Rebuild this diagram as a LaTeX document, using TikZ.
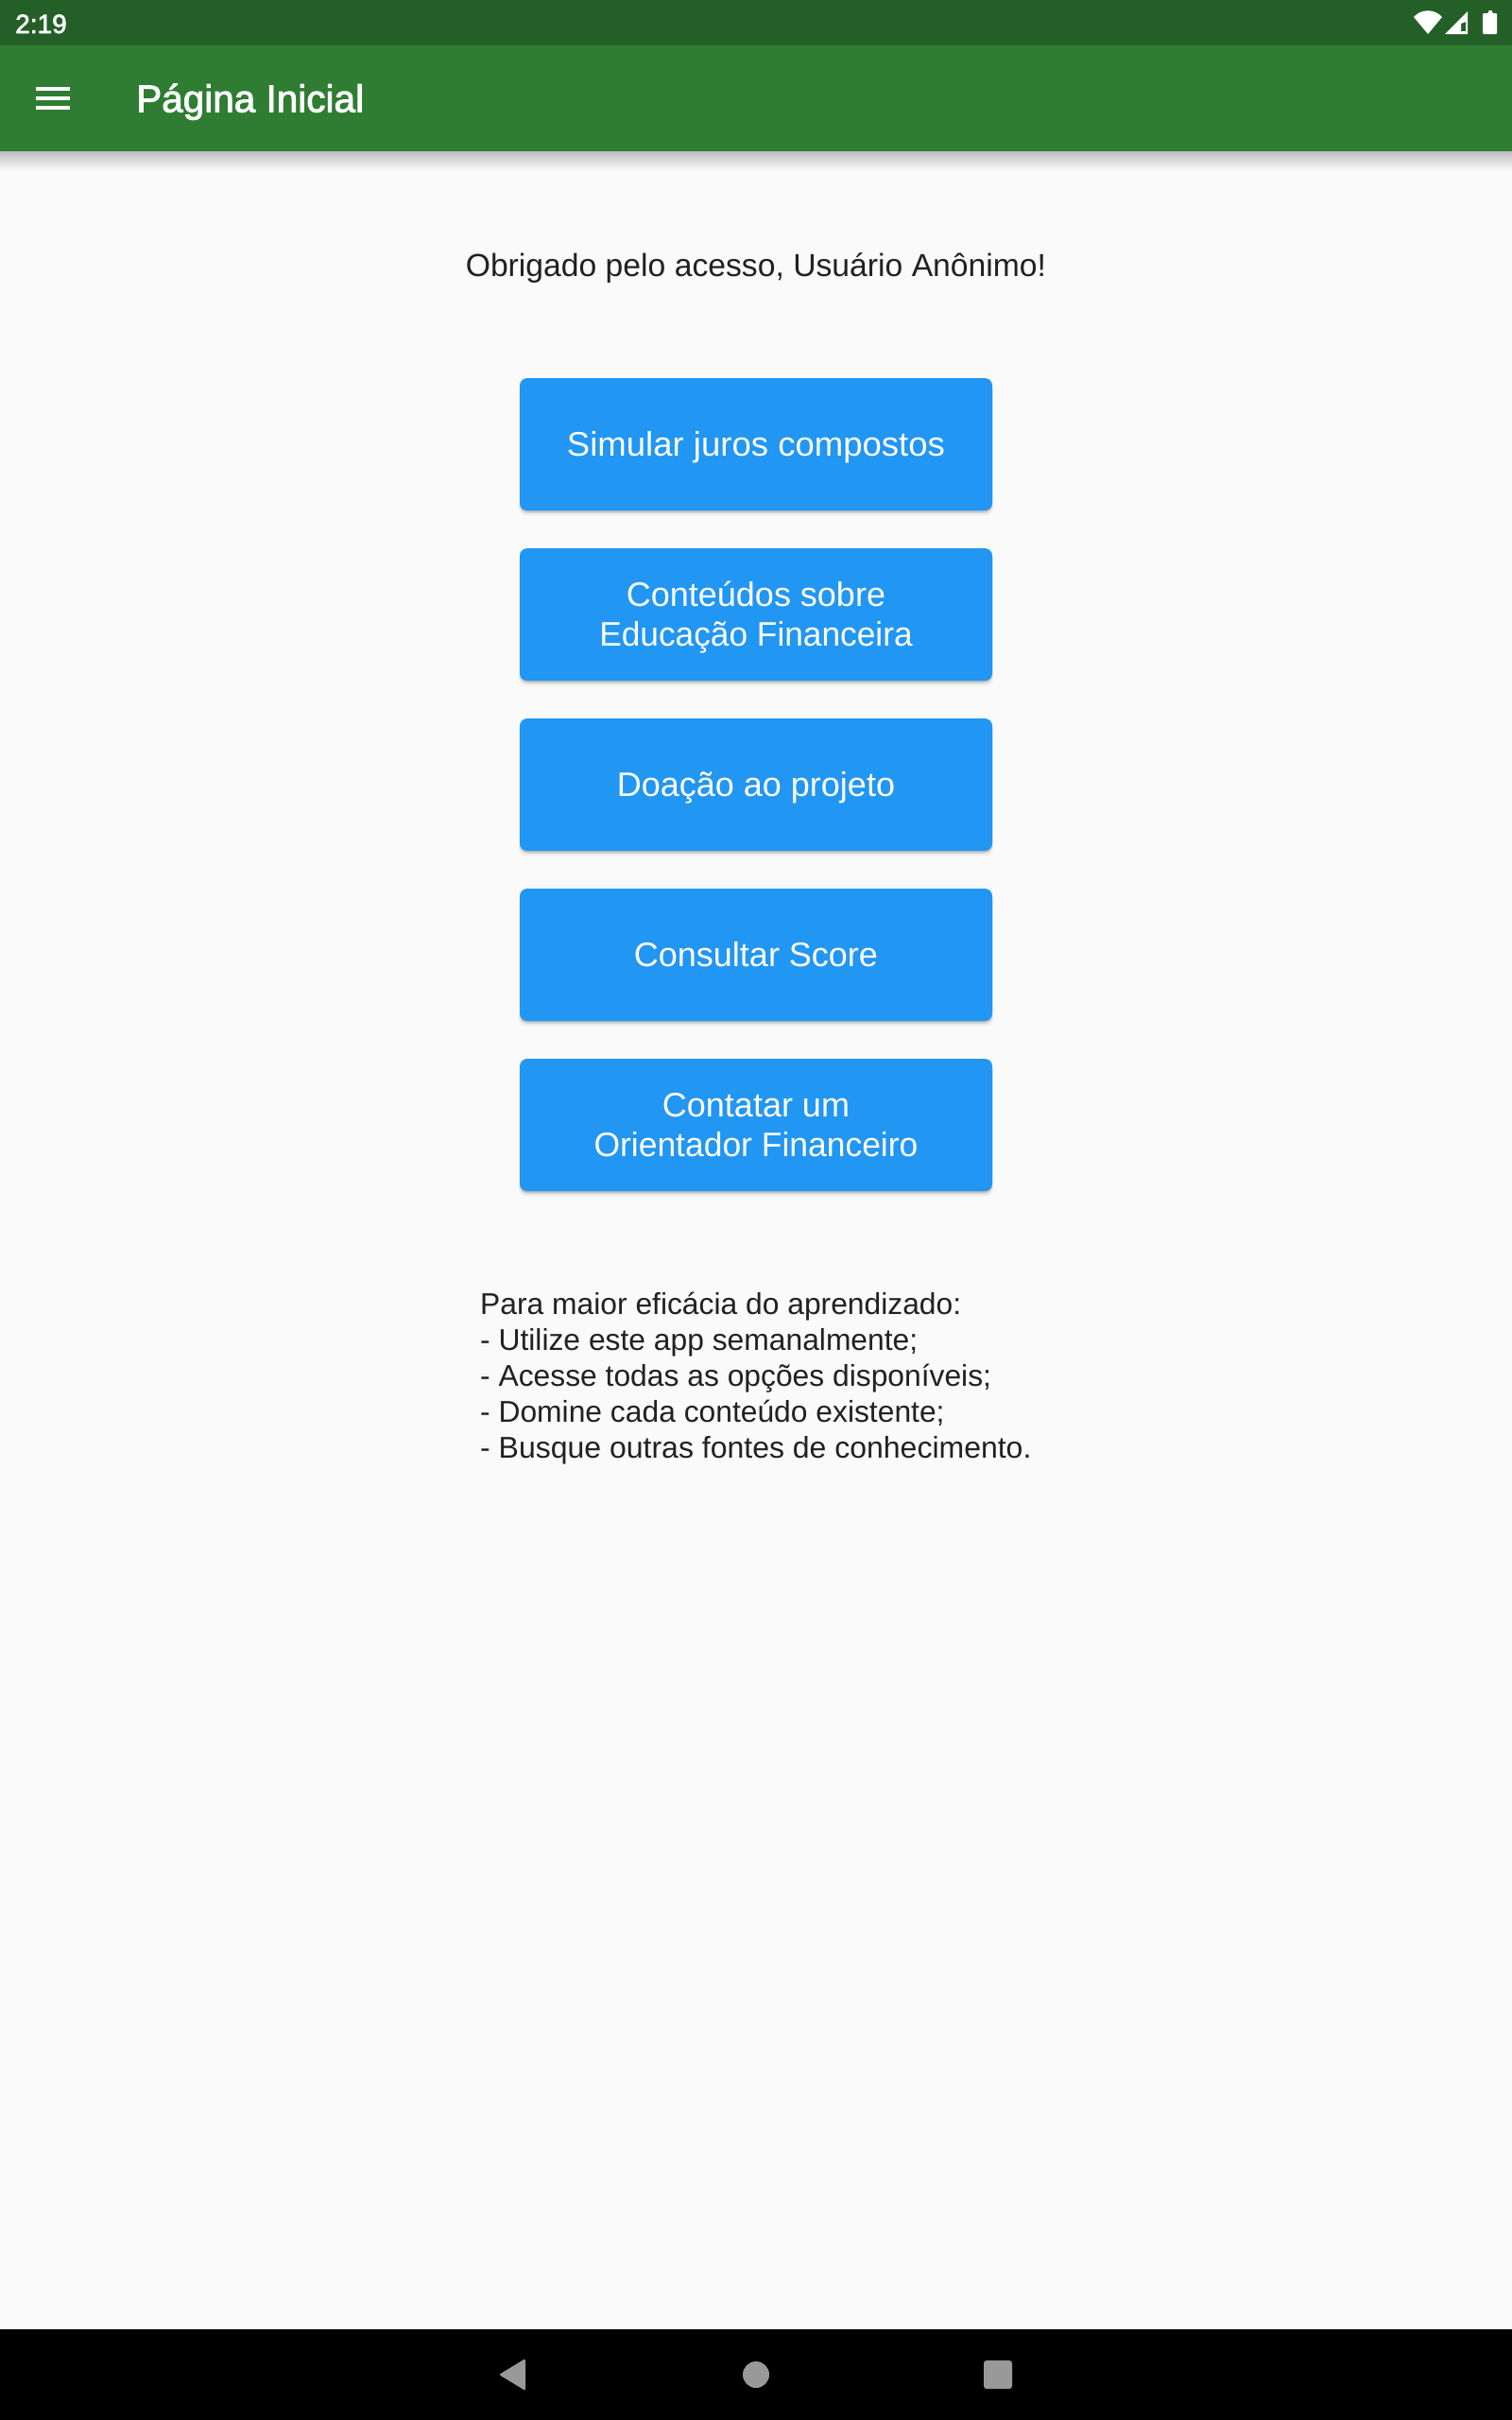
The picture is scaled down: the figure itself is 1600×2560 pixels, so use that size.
\documentclass[tikz,border=0pt]{standalone}
\usepackage{fontspec}
\usetikzlibrary{shadows}
\setmainfont{Liberation Sans}
\newfontfamily\medfont[FakeBold=2.2]{Liberation Sans}
\definecolor{statusgreen}{HTML}{245F28}
\definecolor{bargreen}{HTML}{2F7D33}
\definecolor{btnblue}{HTML}{2196F3}
\definecolor{pagebg}{HTML}{FAFAFA}
\definecolor{inktext}{HTML}{212121}
\definecolor{navgray}{HTML}{999999}
\newcommand{\topstrut}{\rule{0pt}{32pt}}
\newcommand{\botstrut}{\rule[-8pt]{0pt}{8pt}}
\newcommand{\hfit}[2]{\scalebox{#1}[1]{#2}}
\tikzset{
  btnbox/.style={rounded corners=8pt, minimum width=500pt, minimum height=140pt, inner sep=0pt,
    fill=btnblue, text=white, align=center, font=\fontsize{36}{42}\selectfont,
    general shadow={fill=black,fill opacity=.05,shadow yshift=-5pt,shadow scale=1.004},
    general shadow={fill=black,fill opacity=.09,shadow yshift=-3pt},
    general shadow={fill=black,fill opacity=.12,shadow yshift=-1.5pt}},
  bodytext/.style={text=inktext, inner sep=0pt, align=left, font=\fontsize{31.8}{38}\selectfont},
  icon/.style={fill=white, draw=none}
}
\begin{document}
\begin{tikzpicture}[x=1pt,y=-1pt]
\useasboundingbox (0,0) rectangle (1600,2560);
\fill[pagebg] (0,0) rectangle (1600,2560);
% app bar shadow
\shade[top color=black!24!pagebg, bottom color=pagebg] (0,160) rectangle (1600,180);
\fill[bargreen] (0,48) rectangle (1600,160);
\fill[statusgreen] (0,0) rectangle (1600,48);
% status bar
\node[anchor=base west, inner sep=0pt, text=white, font=\medfont\fontsize{28}{28}\selectfont] (clock) at (16,35) {2:19};
\fill[icon] (1496,18) .. controls (1504,9) and (1518,9) .. (1526,18) -- (1511,36) -- cycle;
\fill[icon, even odd rule] (1529,36) -- (1553,12) -- (1553,36) -- cycle (1546,25) -- (1546,33) -- (1551,33) -- (1551,23) -- cycle;
\fill[icon, rounded corners=1pt] (1569,14) -- (1575,14) -- (1575,11) -- (1579,11) -- (1579,14) -- (1584,14) -- (1584,36) -- (1569,36) -- cycle;
% app bar
\foreach \yy in {92,102,112} \fill[icon] (38,\yy) rectangle (74,\yy+4);
\node[anchor=base west, inner sep=0pt, text=white, font=\medfont\fontsize{40.5}{40}\selectfont] (title) at (144,118.5) {Página Inicial};
% content
\node[anchor=base, bodytext, font=\fontsize{33.7}{38}\selectfont] (greeting) at (800,292) {Obrigado pelo acesso, Usuário Anônimo!};
\node[btnbox] (b1) at (800,470) {\topstrut\hfit{1.015}{Simular juros compostos}\botstrut};
\node[btnbox] (b2) at (800,650) {\topstrut Conteúdos sobre\\\hfit{0.98}{Educação Financeira}\botstrut};
\node[btnbox] (b3) at (800,830) {\topstrut Doação ao projeto\botstrut};
\node[btnbox] (b4) at (800,1010) {\topstrut Consultar Score\botstrut};
\node[btnbox] (b5) at (800,1190) {\topstrut Contatar um\\\hfit{0.985}{Orientador Financeiro}\botstrut};
\node[bodytext, anchor=north west] (tips) at (508,1366.5) {Para maior eficácia do aprendizado:\\- Utilize este app semanalmente;\\- Acesse todas as opções disponíveis;\\- Domine cada conteúdo existente;\\\hfit{1.006}{- Busque outras fontes de conhecimento.}};
% nav bar
\fill[black] (0,2464) rectangle (1600,2560);
\fill[navgray, rounded corners=2pt] (528,2512) -- (556,2495) -- (556,2529) -- cycle;
\fill[navgray] (800,2512) circle (14);
\fill[navgray, rounded corners=3pt] (1041,2497) rectangle (1071,2527);
\end{tikzpicture}
\end{document}
